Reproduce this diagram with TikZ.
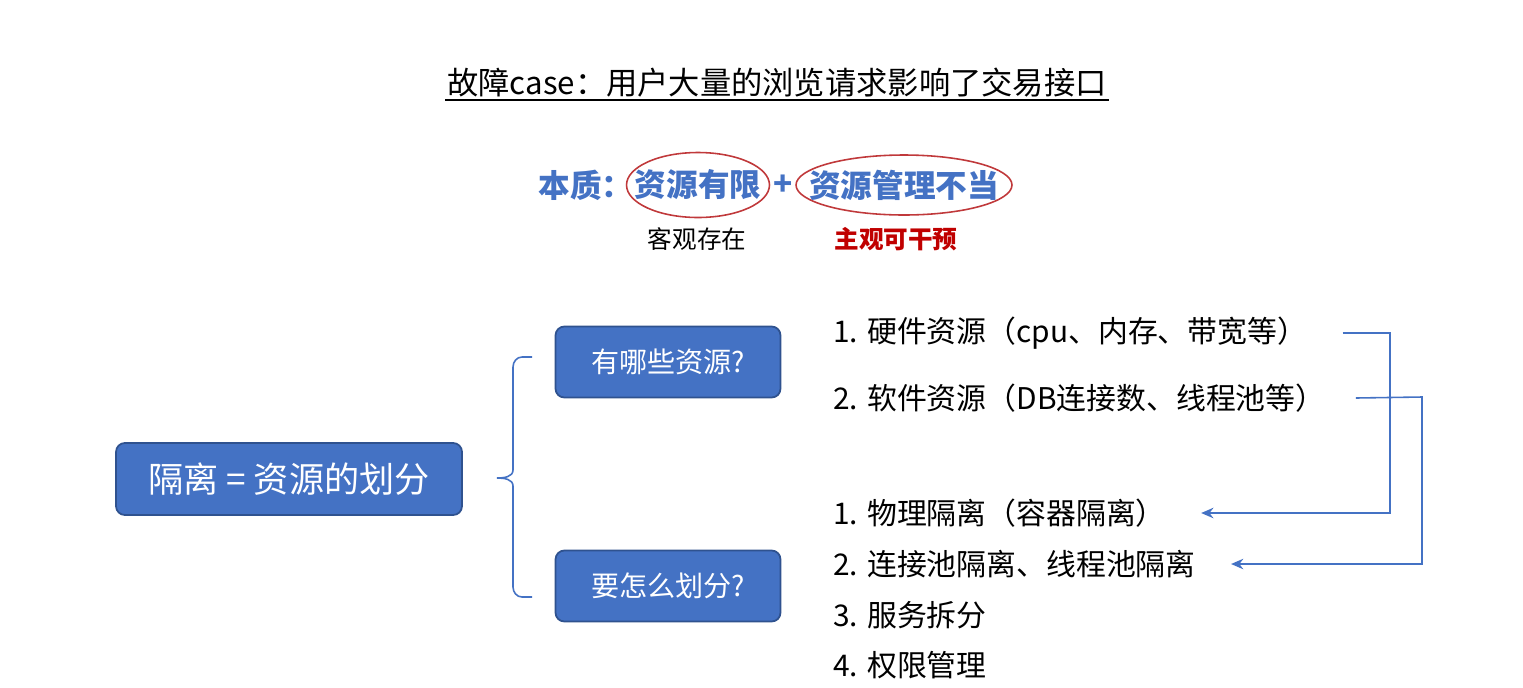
\documentclass[tikz,border=0pt]{standalone}
\usepackage{fontspec}
\setmainfont{Noto Sans CJK SC}
\usepackage{tikz}
\usetikzlibrary{arrows.meta}
\definecolor{pptblue}{HTML}{4472C4}
\definecolor{pptedge}{HTML}{2F528F}
\definecolor{pptred}{HTML}{C00000}
\definecolor{ringred}{HTML}{C0393B}
\tikzset{
    topic/.style={draw=pptedge, fill=pptblue, line width=1pt, rounded corners=5pt,
        text=white, inner sep=0pt},
    item/.style={anchor=west, inner sep=0pt, font=\fontsize{17}{20}\selectfont},
    keyword/.style={text=pptblue, inner sep=0pt, font=\fontsize{18}{21}\selectfont\bfseries},
    ring/.style={draw=ringred, line width=0.9pt},
    flow/.style={draw=pptblue, line width=0.9pt, -{Stealth[length=7pt,width=6pt]}},
    bracket/.style={draw=pptblue, line width=0.9pt}
}

\begin{document}
\begin{tikzpicture}[x=0.02cm, y=-0.02cm]
            \useasboundingbox (0,0) rectangle (1523,687);

            % heading
            \node[inner sep=1pt, font=\fontsize{17.8}{21}\selectfont] (title) at (777,83)
                {故障case：用户大量的浏览请求影响了交易接口};
            \draw[line width=1pt] (title.south west) -- (title.south east);

            % essence line
            \node[keyword] (essence) at (586,185) {本质：};
            \node[keyword] (limited) at (698,185) {资源有限};
            \node[keyword] (plus) at (783,185) {+};
            \node[keyword] (misuse) at (904,185) {资源管理不当};
            \draw[ring] (limited.center) ellipse [x radius=1.43cm, y radius=0.65cm];
            \draw[ring] (misuse.center) ellipse [x radius=2.16cm, y radius=0.6cm];
            \node[font=\fontsize{14}{16}\selectfont] (objective) at (697,239) {客观存在};
            \node[text=pptred, font=\fontsize{14}{16}\selectfont\bfseries] (subjective) at (896,239) {主观可干预};

            % main boxes
            \node[topic, minimum width=6.92cm, minimum height=1.44cm,
                font=\fontsize{20}{23}\selectfont] (isolate) at (289,479) {隔离 = 资源的划分};
            \node[topic, minimum width=4.5cm, minimum height=1.42cm,
                font=\fontsize{16}{19}\selectfont] (which) at (668,362) {有哪些资源?};
            \node[topic, minimum width=4.5cm, minimum height=1.42cm,
                font=\fontsize{16}{19}\selectfont] (how) at (668,586) {要怎么划分?};

            % brace
            \draw[bracket] (532,357) -- (522,357) to[out=180,in=90] (513,367) -- (513,470)
                to[out=-90,in=0] (497,478) to[out=0,in=90] (513,486) -- (513,587)
                to[out=-90,in=180] (522,597) -- (532,597);

            % resource list
            \node[item] (hw) at (833,333) {1. 硬件资源（cpu、内存、带宽等）};
            \node[item] (sw) at (833,398) {2. 软件资源（DB连接数、线程池等）};

            % ways to split
            \node[item] (phys) at (833,513) {1. 物理隔离（容器隔离）};
            \node[item] (pool) at (833,564) {2. 连接池隔离、线程池隔离};
            \node[item] (split) at (833,615) {3. 服务拆分};
            \node[item] (perm) at (833,665) {4. 权限管理};

            % mapping
            \coordinate (bendA) at (1390,333);
            \coordinate (bendB) at (1422,397);
            \draw[flow] ([xshift=0.7cm]hw.east) -- (bendA) |- ([xshift=0.7cm]phys.east);
            \draw[flow] ([xshift=0.6cm]sw.east) -- (bendB) |- ([xshift=0.7cm]pool.east);
        \end{tikzpicture}
\end{document}
